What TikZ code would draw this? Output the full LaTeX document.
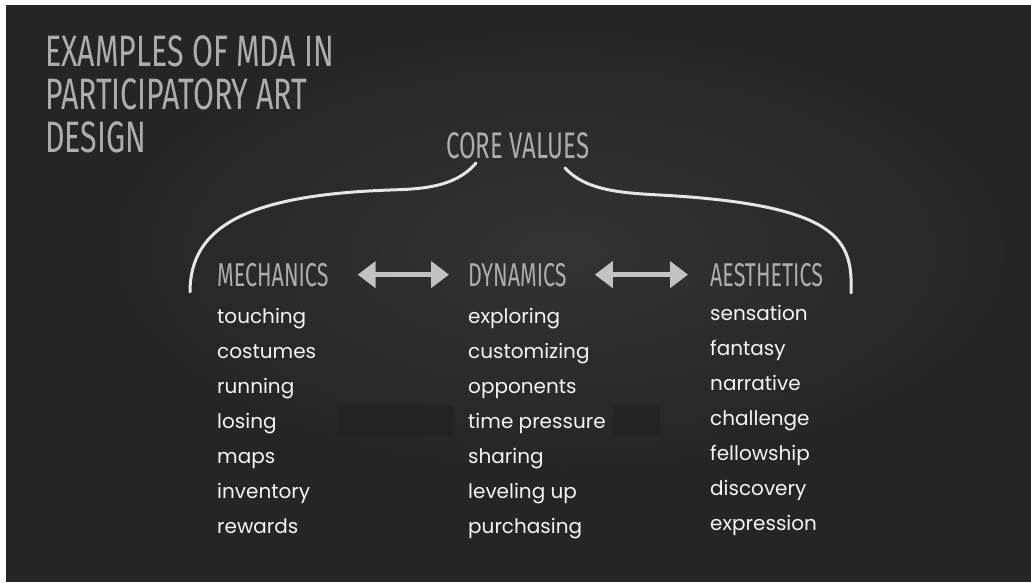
\documentclass[tikz,border=0pt]{standalone}
\usepackage{fontspec}
\setmainfont{Poppins}
\newfontfamily\chalkfont[FakeStretch=0.65]{Fira Sans}
\newfontfamily\titlefont[FakeStretch=0.69]{Fira Sans}
\usetikzlibrary{positioning, arrows.meta, backgrounds}

\definecolor{board}{HTML}{252525}
\definecolor{boardlight}{HTML}{333333}
\definecolor{boardpatch}{HTML}{232323}
\definecolor{chalkgrey}{HTML}{ADADAD}
\definecolor{arrowgrey}{HTML}{C2C2C2}
\definecolor{chalkline}{HTML}{E6E6E6}
\definecolor{chalkwhite}{HTML}{F4F4F4}

\tikzset{
  heading/.style={anchor=base west, inner sep=0pt, text=chalkgrey, font=\chalkfont\fontsize{33}{33}\selectfont},
  item/.style={anchor=base west, inner sep=0pt, text=chalkwhite, font=\fontsize{20}{20}\selectfont},
  brace/.style={draw=chalkline, line width=3pt, line cap=round},
  chalkarrow/.style={draw=arrowgrey, line width=5pt, {Triangle[length=18pt,width=26pt]}-{Triangle[length=18pt,width=26pt]}},
}

\begin{document}
\begin{tikzpicture}[x=1pt, y=-1pt, line join=bevel]
\useasboundingbox (0,0) rectangle (1031,583);
% Board
\fill[white] (0,0) rectangle (1031,583);
\fill[board] (6,5) rectangle (1031,582);
\begin{scope}
\clip (6,5) rectangle (1031,582);
\shade[inner color=boardlight, outer color=board] (560,250) ellipse (460 and 225);
\end{scope}
\fill[boardpatch] (337,405) rectangle (453,437);
\fill[boardpatch] (613,405) rectangle (660,435);

% Titles
\node[anchor=base west, inner sep=0pt, align=left, text=chalkgrey, font=\titlefont\fontsize{44}{43}\selectfont] (title) at (45,153) {EXAMPLES OF MDA IN\\PARTICIPATORY ART\\DESIGN};
\node[heading, font=\chalkfont\fontsize{37}{37}\selectfont] (core) at (446,158) {CORE VALUES};

\node[heading] (mech) at (217,286) {MECHANICS};
\node[heading] (dyn) at (468,286) {DYNAMICS};
\node[heading] (aes) at (710,286) {AESTHETICS};

% Brace
\coordinate (bl) at (190,292);
\coordinate (br) at (851,293);
\draw[brace] (476,163) .. controls (455,188) and (420,189) .. (390,190)
  .. controls (250,195) and (190,225) .. (bl);
\draw[brace] (565,168) .. controls (585,190) and (620,193) .. (660,195)
  .. controls (840,205) and (853,240) .. (br);

% Arrows
\draw[chalkarrow] ([xshift=29pt]mech.east) -- ([xshift=-19pt]dyn.west);
\draw[chalkarrow] ([xshift=28pt]dyn.east) -- ([xshift=-22pt]aes.west);

% Lists
\foreach \w [count=\i] in {touching, costumes, running, losing, maps, inventory, rewards}
  \node[item] (mech-\i) at (217,288+35*\i) {\w};
\foreach \w [count=\i] in {exploring, customizing, opponents, time pressure, sharing, leveling up, purchasing}
  \node[item] (dyn-\i) at (468,288+35*\i) {\w};
\foreach \w [count=\i] in {sensation, fantasy, narrative, challenge, fellowship, discovery, expression}
  \node[item] (aes-\i) at (710,285+35*\i) {\w};

\end{tikzpicture}
\end{document}
